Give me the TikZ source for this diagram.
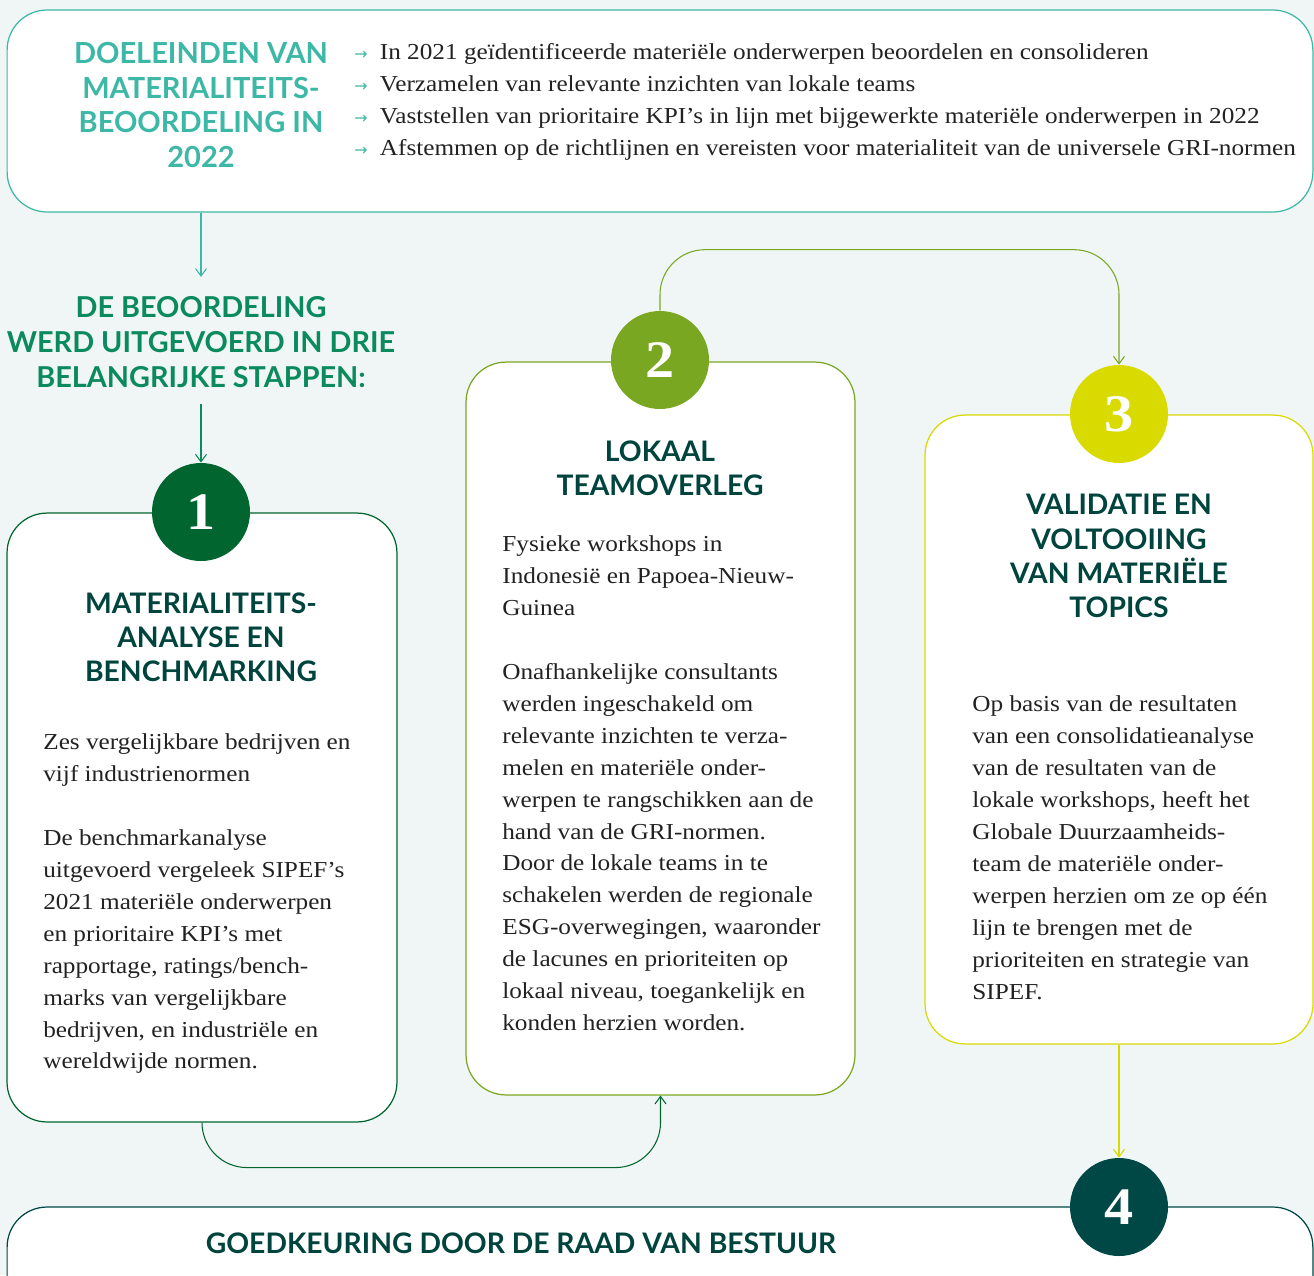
\documentclass[tikz,border=0pt]{standalone}
\usepackage{fontspec}
\setmainfont[FakeStretch=1.105]{Liberation Serif}
\setsansfont{Lato}
\newfontfamily\arrowfont{DejaVu Sans}
\usetikzlibrary{arrows.meta,positioning}

\definecolor{bgmint}{HTML}{F0F6F5}
\definecolor{aimteal}{HTML}{3DB7A6}
\definecolor{howgreen}{HTML}{0B8A5E}
\definecolor{stepone}{HTML}{00652F}
\definecolor{steptwo}{HTML}{7AA722}
\definecolor{stepthree}{HTML}{D8DA00}
\definecolor{stepfour}{HTML}{004845}
\definecolor{headdark}{HTML}{00443E}
\definecolor{bodyink}{HTML}{222222}

\begin{document}
\begin{tikzpicture}[x=0.02cm, y=-0.02cm,
  stepbox/.style={draw, fill=white, line width=0.7pt, rounded corners=0.8cm, inner sep=0pt},
  numdot/.style={circle, inner sep=0pt, minimum size=1.96cm, text=white,
    font=\bfseries\fontsize{30}{30}\selectfont},
  headtxt/.style={align=center, inner sep=0pt, text=headdark,
    font=\sffamily\bfseries\fontsize{16.1}{19.4}\selectfont},
  bodytxt/.style={align=left, inner sep=0pt, anchor=north west, text=bodyink,
    font=\fontsize{13}{18.2}\selectfont},
  conn/.style={line width=0.6pt, -{Straight Barb[length=1.5mm, width=2.2mm]}}]
  \fill[bgmint] (0,0) rectangle (1314,1275);
  \clip (0,0) rectangle (1314,1275);

  % top: aims of the assessment
  \node[stepbox, draw=aimteal, minimum width=26.12cm, minimum height=4.04cm] (aimbox) at (660,111) {};
  \node[headtxt, text=aimteal, font=\sffamily\bfseries\fontsize{16.5}{19.8}\selectfont] (aimhead) at (201,105)
    {DOELEINDEN VAN\\MATERIALITEITS-\\BEOORDELING IN\\2022};
  \node[bodytxt] (aims) at (354,43)
    {{\arrowfont\small\textcolor{aimteal}{→}}\hspace{7pt}In 2021 geïdentificeerde materiële onderwerpen beoordelen en consolideren\\
     {\arrowfont\small\textcolor{aimteal}{→}}\hspace{7pt}Verzamelen van relevante inzichten van lokale teams\\
     {\arrowfont\small\textcolor{aimteal}{→}}\hspace{7pt}Vaststellen van prioritaire KPI’s in lijn met bijgewerkte materiële onderwerpen in 2022\\
     {\arrowfont\small\textcolor{aimteal}{→}}\hspace{7pt}Afstemmen op de richtlijnen en vereisten voor materialiteit van de universele GRI-normen};

  \node[headtxt, text=howgreen, font=\sffamily\bfseries\fontsize{16.4}{19.8}\selectfont] (how) at (201,342)
    {DE BEOORDELING\\WERD UITGEVOERD IN DRIE\\BELANGRIJKE STAPPEN:};

  % step boxes
  \node[stepbox, draw=stepone, minimum width=7.8cm, minimum height=12.18cm] (box1) at (202,817.5) {};
  \node[stepbox, draw=steptwo, minimum width=7.78cm, minimum height=14.66cm] (box2) at (660.5,728.5) {};
  \node[stepbox, draw=stepthree, minimum width=7.76cm, minimum height=12.58cm] (box3) at (1119,729.5) {};
  \node[stepbox, draw=stepfour, minimum width=26.12cm, minimum height=3cm] (box4) at (660,1282) {};

  \node[numdot, fill=stepone] (n1) at (201,512) {1};
  \node[numdot, fill=steptwo] (n2) at (660,360) {2};
  \node[numdot, fill=stepthree] (n3) at (1119,414) {3};
  \node[numdot, fill=stepfour] (n4) at (1119,1207) {4};

  \node[headtxt] (h1) at (201,637) {MATERIALITEITS-\\ANALYSE EN\\BENCHMARKING};
  \node[headtxt] (h2) at (660,468) {LOKAAL\\TEAMOVERLEG};
  \node[headtxt] (h3) at (1119,556) {VALIDATIE EN\\VOLTOOIING\\VAN MATERIËLE\\TOPICS};
  \node[headtxt] (h4) at (521,1243) {GOEDKEURING DOOR DE RAAD VAN BESTUUR};

  \node[bodytxt] (t1) at (43,733)
    {Zes vergelijkbare bedrijven en\\vijf industrienormen\\[18.2pt]
     De benchmarkanalyse\\uitgevoerd vergeleek SIPEF’s\\2021 materiële onderwerpen\\en prioritaire KPI’s met\\
     rapportage, ratings/bench-\\marks van vergelijkbare\\bedrijven, en industriële en\\wereldwijde normen.};
  \node[bodytxt] (t2) at (502,535)
    {Fysieke workshops in\\Indonesië en Papoea-Nieuw-\\Guinea\\[18.2pt]
     Onafhankelijke consultants\\werden ingeschakeld om\\relevante inzichten te verza-\\melen en materiële onder-\\
     werpen te rangschikken aan de\\hand van de GRI-normen.\\Door de lokale teams in te\\schakelen werden de regionale\\
     ESG-overwegingen, waaronder\\de lacunes en prioriteiten op\\lokaal niveau, toegankelijk en\\konden herzien worden.};
  \node[bodytxt] (t3) at (972,695)
    {Op basis van de resultaten\\van een consolidatieanalyse\\van de resultaten van de\\lokale workshops, heeft het\\
     Globale Duurzaamheids-\\team de materiële onder-\\werpen herzien om ze op één\\lijn te brengen met de\\
     prioriteiten en strategie van\\SIPEF.};

  % connectors
  \draw[conn, aimteal, shorten >=11pt] (aimbox.south -| how) -- (how.north);
  \draw[conn, howgreen, shorten <=9pt] (how.south) -- (n1.north);
  \draw[conn, stepone, rounded corners=0.9cm] (box1.south) -- ++(0,45) -| (box2.south);
  \draw[conn, steptwo, rounded corners=0.9cm] (n2.north) -- ++(0,-61) -| (n3.north);
  \draw[conn, stepthree] (box3.south) -- (n4.north);
\end{tikzpicture}
\end{document}
